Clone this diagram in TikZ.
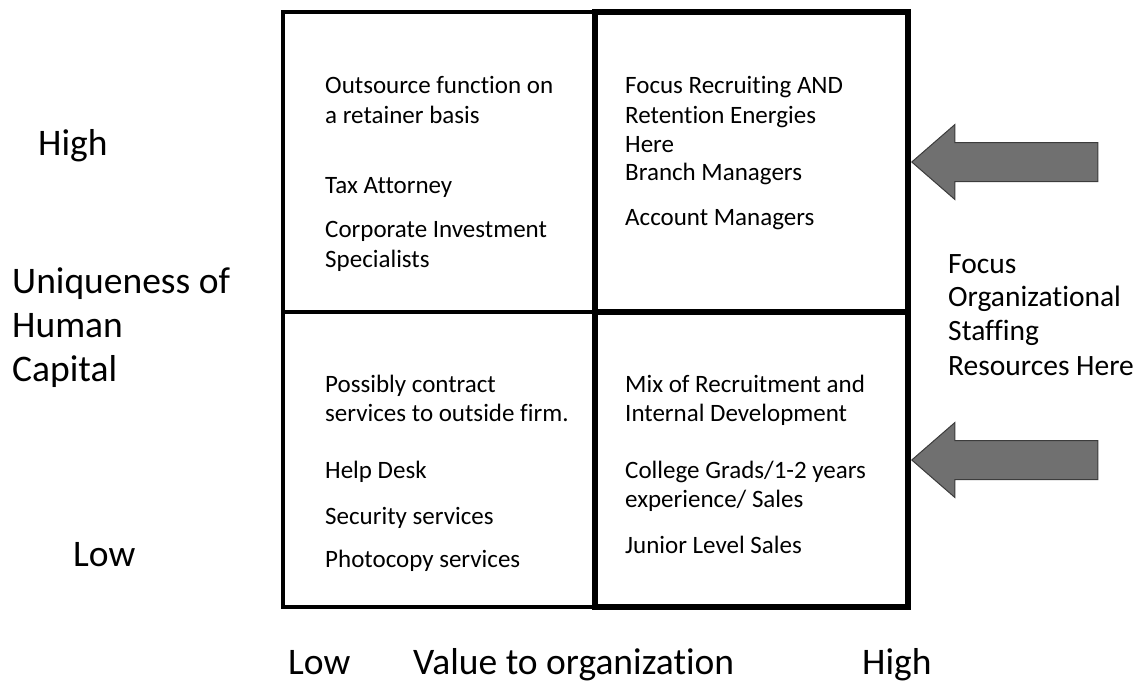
\documentclass[tikz,border=0pt]{standalone}
\usepackage{fontspec}
\setmainfont{Carlito}[Ligatures=CommonOff]
\usetikzlibrary{shapes.arrows}
\definecolor{arrowgray}{RGB}{112,112,112}
\definecolor{arrowedge}{RGB}{60,60,60}
\tikzset{cell/.style={anchor=base west,inner sep=0pt,
                      font=\fontsize{25}{29}\selectfont}}
\tikzset{axis/.style={anchor=base west,inner sep=0pt,
                      font=\fontsize{37.5}{44}\selectfont}}

\begin{document}
\begin{tikzpicture}[x=1pt,y=-1pt,
    % styles for clarity
    side/.style  ={anchor=base west, inner sep=0pt, font=\fontsize{29.5}{34}\selectfont},
    focus/.style ={single arrow, shape border rotate=180, fill=arrowgray,
                   draw=arrowedge, line width=1pt, single arrow head extend=18pt,
                   single arrow tip angle=82, minimum height=186pt,
                   text height=0pt, text depth=0pt, inner xsep=0pt,
                   inner ysep=19pt, anchor=tip}
  ]
    \useasboundingbox (0,0) rectangle (1141,686);

    % grid
    \coordinate (lt) at (283,12);
    \coordinate (mt) at (595,12);
    \coordinate (rt) at (908,12);
    \coordinate (lm) at (283,312);
    \coordinate (mm) at (595,312);
    \coordinate (rm) at (908,312);
    \coordinate (lb) at (283,607);
    \coordinate (mb) at (595,607);
    \coordinate (rb) at (908,607);

    \draw[line width=4pt] (lt) rectangle (mb);
    \draw[line width=4pt] (lm) -- (mm);
    \draw[line width=6.5pt] (mt) rectangle (rb);
    \draw[line width=6.5pt] (mm) -- (rm);

    % quadrant texts
    \foreach \y/\t [count=\i] in {93/{Outsource function on}, 123/{a retainer basis},
        193/{Tax Attorney}, 237/{Corporate Investment}, 267/{Specialists}}
      \node[cell] (tl\i) at (325,\y) {\t};
    \foreach \y/\t [count=\i] in {93/{Focus Recruiting AND}, 123/{Retention Energies},
        152/{Here}, 180/{Branch Managers}, 225/{Account Managers}}
      \node[cell] (tr\i) at (625,\y) {\t};
    \foreach \y/\t [count=\i] in {392/{Possibly contract}, 421/{services to outside firm.},
        478/{Help Desk}, 524/{Security services}, 567/{Photocopy services}}
      \node[cell] (bl\i) at (325,\y) {\t};
    \foreach \y/\t [count=\i] in {392/{Mix of Recruitment and}, 421/{Internal Development},
        478/{College Grads/1-2 years}, 507/{experience/ Sales}, 553/{Junior Level Sales}}
      \node[cell] (br\i) at (625,\y) {\t};

    % axis labels
    \node[axis] (yhigh) at (38,155) {High};
    \node[axis] (yname1) at (12,293) {Uniqueness of};
    \node[axis] (yname2) at (12,337) {Human};
    \node[axis] (yname3) at (12,381) {Capital};
    \node[axis] (ylow) at (73,566) {Low};
    \node[axis] (xlow) at (288,674) {Low};
    \node[axis] (xname) at (413,674) {Value to organization};
    \node[axis] (xhigh) at (862,674) {High};

    % focus note and arrows
    \foreach \y/\t [count=\i] in {273/{Focus}, 306/{Organizational},
        340/{Staffing}, 375/{Resources Here}}
      \node[side] (note\i) at (948,\y) {\t};
    \coordinate (hiin) at (911,162);
    \coordinate (loin) at (911,460);
    \node[focus] (arrhi) at (hiin) {};
    \node[focus] (arrlo) at (loin) {};
\end{tikzpicture}
\end{document}
